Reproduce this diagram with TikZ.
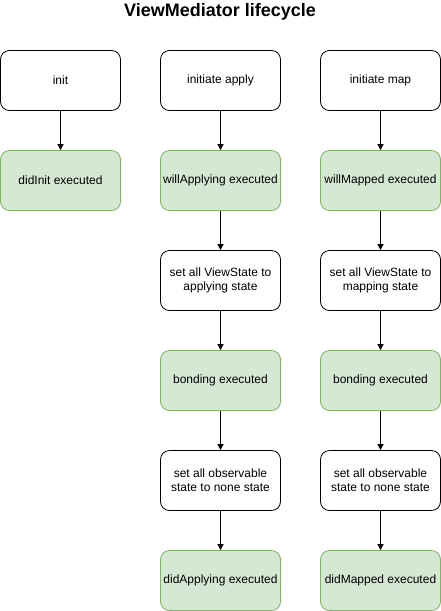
\documentclass[tikz,border=0pt]{standalone}
\usepackage{fontspec}
\setmainfont{Liberation Sans}
\usetikzlibrary{arrows.meta}
\definecolor{gfill}{HTML}{D5E8D4}
\definecolor{gline}{HTML}{82B366}
\begin{document}
\begin{tikzpicture}[x=1pt,y=-1pt,
  box/.style={draw=black, line width=0.8pt, rounded corners=9pt, minimum width=120pt, minimum height=60pt, align=center, font=\fontsize{12}{14}\selectfont, inner sep=2pt, fill=white},
  gbox/.style={box, draw=gline, fill=gfill},
  arr/.style={-{Triangle[length=6pt,width=6pt]}, line width=0.8pt}]
\useasboundingbox (0,0) rectangle (441,611);
\node[font=\bfseries\fontsize{18}{21}\selectfont] (title) at (220,12) {ViewMediator lifecycle};
% column 1
\node[box] (a1) at (60.5,80.5) {init};
\node[gbox] (a2) at (60.5,180.5) {didInit executed};
% column 2
\node[box] (b1) at (220.5,80.5) {initiate apply};
\node[gbox] (b2) at (220.5,180.5) {willApplying executed};
\node[box] (b3) at (220.5,280.5) {set all ViewState to\\applying state};
\node[gbox] (b4) at (220.5,380.5) {bonding executed};
\node[box] (b5) at (220.5,480.5) {set all observable\\state to none state};
\node[gbox] (b6) at (220.5,580.5) {didApplying executed};
% column 3
\node[box] (c1) at (380.5,80.5) {initiate map};
\node[gbox] (c2) at (380.5,180.5) {willMapped executed};
\node[box] (c3) at (380.5,280.5) {set all ViewState to\\mapping state};
\node[gbox] (c4) at (380.5,380.5) {bonding executed};
\node[box] (c5) at (380.5,480.5) {set all observable\\state to none state};
\node[gbox] (c6) at (380.5,580.5) {didMapped executed};
\draw[arr] (a1) -- (a2);
\foreach \p/\q in {b1/b2,b2/b3,b3/b4,b4/b5,b5/b6,c1/c2,c2/c3,c3/c4,c4/c5,c5/c6}
  \draw[arr] (\p) -- (\q);
\end{tikzpicture}
\end{document}
